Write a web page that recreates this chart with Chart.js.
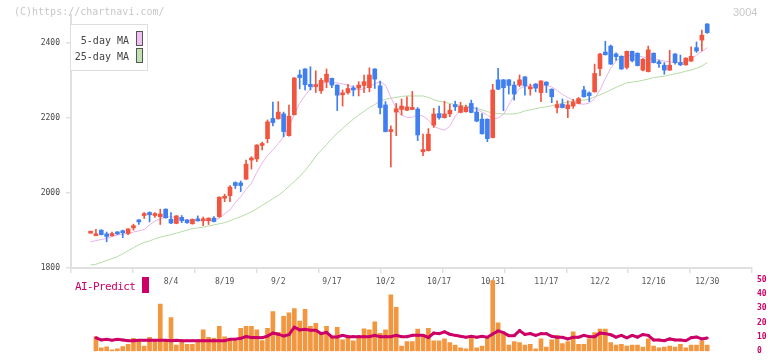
<!DOCTYPE html>
<html><head><meta charset="utf-8">
<script src="https://cdn.jsdelivr.net/npm/chart.js@4/dist/chart.umd.min.js"></script>
<style>
body{margin:0;background:#fff;width:772px;height:361px;overflow:hidden;position:relative;font-family:"DejaVu Sans Mono",monospace;}
canvas{position:absolute;left:0;}
#c1{top:0}
#c2{top:270px}
.t{position:absolute;white-space:nowrap;line-height:10px;}
</style></head><body>
<canvas id="c1" width="772" height="300"></canvas>
<canvas id="c2" width="772" height="91"></canvas>
<div class="t" style="left:14px;top:7px;font-size:10px;color:#c8c8c8">(C)https://chartnavi.com/</div>
<div class="t" style="left:733px;top:7px;font-size:11px;line-height:11px;color:#c8c8c8;font-family:'Liberation Sans',sans-serif">3004</div>
<div style="position:absolute;left:70px;top:24px;width:78px;height:47px;box-sizing:border-box;border:1.5px solid #dedede;background:#fff"></div>
<div class="t" style="left:0;width:129px;text-align:right;top:36px;font-size:10px;color:#444">5-day MA</div>
<div class="t" style="left:0;width:129px;text-align:right;top:52px;font-size:10px;color:#444">25-day MA</div>
<div style="position:absolute;left:136px;top:31px;width:7px;height:15px;box-sizing:border-box;border:1px solid #555;background:#f0c0f0"></div>
<div style="position:absolute;left:136px;top:48px;width:7px;height:15px;box-sizing:border-box;border:1px solid #555;background:#c0e2b2"></div>
<div class="t" style="left:75px;top:281px;font-size:11px;line-height:11px;letter-spacing:-0.6px;color:#cc0066">AI-Predict</div>
<div style="position:absolute;left:142px;top:277px;width:7px;height:16px;background:#cc0066"></div>
<script>
// candle index k = 0..115 (trading days 7/11 .. 12/30)
const openP = [1893,1886,1901,1891,1886,1896,1899,1892,1907,1928,
1940,1948,1940,1937,1957,1930,1919,1935,1928,1918,
1931,1926,1926,1933,1937,1986,1993,2028,2027,2037,
2088,2091,2127,2145,2199,2198,2211,2153,2209,2315,
2331,2290,2284,2273,2297,2306,2288,2262,2268,2280,
2280,2287,2281,2331,2286,2235,2164,2216,2223,2221,
2223,2224,2110,2113,2181,2212,2201,2211,2236,2215,
2217,2239,2216,2197,2197,2148,2302,2302,2302,2288,
2288,2310,2278,2291,2268,2296,2277,2228,2237,2225,
2232,2239,2275,2267,2270,2332,2376,2392,2371,2365,
2335,2378,2373,2328,2324,2373,2350,2341,2328,2371,
2348,2342,2352,2388,2408,2451];
const highP = [1897,1903,1902,1896,1896,1897,1901,1905,1917,1929,
1948,1950,1948,1957,1958,1948,1940,1940,1929,1931,
1939,1936,1934,1937,1990,1997,2020,2030,2032,2088,
2097,2129,2136,2195,2243,2244,2216,2235,2308,2328,
2332,2337,2326,2306,2331,2307,2289,2275,2290,2286,
2297,2315,2334,2332,2299,2244,2179,2239,2251,2257,
2271,2228,2157,2172,2226,2232,2245,2237,2245,2242,
2235,2248,2228,2212,2198,2290,2333,2303,2303,2297,
2315,2311,2291,2292,2300,2297,2278,2246,2251,2246,
2250,2255,2285,2270,2344,2373,2405,2395,2374,2366,
2379,2379,2374,2359,2392,2374,2355,2348,2381,2372,
2368,2361,2390,2403,2435,2452];
const lowP = [1893,1886,1888,1870,1885,1889,1881,1889,1901,1916,
1932,1923,1935,1916,1933,1918,1918,1921,1919,1917,
1925,1913,1916,1923,1935,1977,1977,2012,2004,2036,
2064,2084,2115,2134,2179,2197,2150,2152,2208,2278,
2275,2275,2268,2266,2281,2281,2220,2232,2264,2259,
2259,2268,2270,2279,2211,2163,2070,2153,2208,2220,
2222,2140,2100,2112,2175,2197,2200,2204,2220,2214,
2216,2214,2190,2157,2137,2147,2276,2220,2264,2248,
2284,2261,2261,2270,2244,2268,2241,2214,2227,2201,
2226,2238,2256,2244,2269,2313,2368,2343,2354,2330,
2331,2350,2339,2326,2323,2347,2335,2317,2327,2344,
2340,2341,2351,2375,2379,2426];
const closeP = [1897,1891,1889,1884,1892,1891,1894,1904,1913,1923,
1945,1942,1945,1944,1934,1920,1939,1926,1921,1930,
1926,1930,1933,1924,1989,1990,2016,2020,2020,2077,
2093,2128,2131,2190,2188,2216,2164,2205,2307,2308,
2289,2284,2288,2301,2317,2288,2261,2267,2279,2275,
2288,2297,2315,2304,2228,2164,2168,2225,2232,2230,
2226,2155,2116,2157,2211,2201,2211,2221,2230,2232,
2229,2215,2192,2158,2145,2275,2277,2281,2287,2264,
2302,2286,2282,2280,2299,2288,2257,2236,2228,2235,
2243,2252,2257,2260,2319,2371,2369,2344,2364,2331,
2378,2353,2340,2357,2382,2348,2345,2328,2341,2348,
2342,2360,2365,2379,2421,2428];
const ma5 = [1870,1873,1876,1879,1884,1888,1890,1892,1896,1899,
1903,1915,1925,1932,1935,1937,1933,1930,1928,1927,
1926,1926,1927,1928,1933,1945,1955,1975,1990,2010,
2026,2055,2080,2100,2115,2132,2150,2177,2210,2240,
2260,2278,2288,2294,2295,2294,2294,2291,2288,2282,
2275,2278,2284,2292,2297,2288,2255,2225,2208,2202,
2202,2210,2205,2195,2178,2172,2168,2178,2205,2220,
2228,2228,2224,2216,2208,2198,2200,2210,2235,2260,
2279,2284,2286,2288,2288,2288,2283,2274,2263,2255,
2248,2238,2237,2240,2252,2275,2305,2333,2353,2362,
2366,2368,2366,2363,2359,2357,2355,2352,2350,2348,
2348,2350,2358,2368,2378,2388];
const ma25 = [1808,1810,1815,1820,1825,1830,1838,1846,1854,1862,
1868,1872,1878,1882,1886,1889,1893,1897,1901,1905,
1907,1909,1912,1915,1918,1921,1926,1932,1937,1943,
1950,1958,1967,1976,1985,1994,2005,2018,2031,2044,
2060,2078,2098,2114,2129,2145,2160,2172,2185,2197,
2208,2218,2228,2236,2246,2250,2253,2255,2258,2259,
2259,2259,2259,2255,2249,2245,2242,2239,2236,2234,
2232,2230,2226,2222,2217,2214,2212,2211,2211,2211,
2214,2219,2222,2225,2228,2230,2233,2236,2240,2243,
2246,2247,2248,2250,2257,2262,2268,2275,2282,2288,
2294,2296,2298,2301,2304,2308,2310,2312,2315,2318,
2321,2325,2328,2333,2339,2348];
const aiBars = [null,10.0,2.3,3.1,1.0,1.6,3.3,4.8,9.0,6.9,
3.5,9.8,6.9,33.0,6.9,23.6,4.2,6.9,4.8,4.8,
6.9,14.9,9.8,9.0,17.4,10.0,8.6,6.9,16.1,17.4,
17.4,14.9,7.5,16.1,27.8,13.2,24.5,26.8,29.9,21.1,
29.3,17.4,19.5,12.5,17.4,10.0,16.8,7.9,10.0,7.3,
10.0,15.7,14.9,20.5,12.5,14.9,39.4,30.8,3.5,6.7,
6.7,15.5,11.1,16.1,7.3,7.3,8.6,6.0,4.2,2.3,
1.6,10.0,2.3,3.5,10.0,49.4,19.8,13.2,4.2,6.7,
6.0,4.2,4.8,1.6,8.6,2.9,7.9,11.1,5.4,6.7,
13.6,4.8,4.8,8.6,13.0,15.5,15.5,6.0,4.2,4.8,
3.5,4.2,4.2,2.9,8.6,3.5,2.3,2.9,3.5,2.9,
4.8,2.3,4.2,4.2,7.3,4.2];
const aiLine = [null,9.4,7.9,8.3,7.7,8.3,7.9,7.3,7.3,7.7,
7.7,7.7,7.7,7.7,7.7,7.3,7.7,7.3,7.3,7.3,
7.3,7.3,7.3,7.3,7.3,7.3,8.3,8.3,9.0,10.2,
9.6,9.6,9.4,10.6,12.7,11.9,10.6,11.5,16.8,14.9,
15.3,14.7,14.7,12.3,13.2,10.0,10.0,11.1,10.2,10.2,
10.2,10.2,10.2,11.1,10.2,10.2,10.2,11.1,10.2,10.2,
11.1,11.1,11.1,9.6,12.7,12.3,13.6,11.9,11.1,10.4,
9.8,10.4,9.8,10.4,9.8,12.1,14.2,13.0,10.9,10.9,
14.4,11.7,12.3,11.1,12.3,12.3,10.4,9.8,9.8,8.6,
9.8,9.8,11.1,10.2,10.2,12.7,12.3,11.5,9.8,11.1,
9.4,11.1,9.8,11.7,11.1,7.9,7.9,7.3,8.6,7.9,
7.9,7.3,9.4,10.0,8.6,9.2];
const dateLabels = ['8/4','8/19','9/2','9/17','10/2','10/17','10/31','11/17','12/2','12/16','12/30'];
const dateLabelIdx = [15,25,35,45,55,65,75,85,95,105,115];
const priceTicks = [1800,2000,2200,2400];

const X_MIN = -3.65, X_MAX = 123.35;
const UP = '#f2553f', DOWN = '#3f7ff0';
const candleColors = openP.map((o,k)=> closeP[k] >= o ? UP : DOWN);
const mono = 'DejaVu Sans Mono';

new Chart(document.getElementById('c1'), {
  data: { datasets: [
    { type:'line', data: ma25.map((v,k)=>({x:k,y:v})), borderColor:'#b5dca5', borderWidth:1, pointRadius:0, tension:0, order:3 },
    { type:'line', data: ma5.map((v,k)=>({x:k,y:v})), borderColor:'#ebb3eb', borderWidth:1, pointRadius:0, tension:0, order:2 },
    { type:'bar', data: highP.map((h,k)=>({x:k,y:[lowP[k],h]})), backgroundColor:candleColors, barThickness:1, grouped:false, order:1 },
    { type:'bar', data: openP.map((o,k)=>({x:k,y:[Math.min(o,closeP[k]),Math.max(o,closeP[k])]})), backgroundColor:candleColors, barThickness:4, minBarLength:2, grouped:false, order:0 }
  ]},
  options: {
    responsive:false, animation:false, events:[],
    plugins:{ legend:{display:false}, tooltip:{enabled:false} },
    layout:{ padding:{ top:15, right:20, left:0, bottom:0 } },
    scales: {
      x: { type:'linear', min:X_MIN, max:X_MAX, position:'bottom', weight:0, offset:false,
        afterBuildTicks: s => { const a=[]; for (let i=0;i<12;i++) a.push({value:X_MIN+i*(X_MAX-X_MIN)/11}); s.ticks=a; },
        afterFit: s => { s.height = 6; },
        ticks:{ display:false },
        grid:{ offset:false, drawOnChartArea:false, drawTicks:true, tickLength:5, color:'#e0e0e0', lineWidth:1.5 },
        border:{ color:'#e0e0e0', width:2 } },
      xd: { type:'linear', min:X_MIN, max:X_MAX, position:'bottom', weight:1, offset:false,
        afterBuildTicks: s => { s.ticks = dateLabelIdx.map(v=>({value:v})); },
        afterFit: s => { s.height = 26; },
        ticks:{ callback:(v,i)=>dateLabels[i], font:{family:mono,size:8}, color:'#555', padding:3, maxRotation:0, autoSkip:false },
        grid:{ display:false, drawTicks:false },
        border:{ display:false } },
      y: { type:'linear', min:1800, max:2475,
        afterBuildTicks: s => { s.ticks = priceTicks.map(v=>({value:v})); },
        afterFit: s => { s.width = 71; },
        ticks:{ callback:v=>String(v), font:{family:mono,size:8}, color:'#444', padding:6 },
        grid:{ drawOnChartArea:false, tickLength:5, color:'#e0e0e0', lineWidth:1.5 },
        border:{ color:'#e0e0e0', width:2 } }
    }
  }
});

new Chart(document.getElementById('c2'), {
  data: { datasets: [
    { type:'line', data: aiLine.map((v,k)=>({x:k,y:v})).filter(p=>p.y!==null), borderColor:'#cc0066', borderWidth:3, pointRadius:1.8, pointStyle:'rect', pointBackgroundColor:'#cc0066', pointBorderWidth:0, tension:0, order:0 },
    { type:'bar', data: aiBars.map((v,k)=>({x:k,y:v})).filter(p=>p.y!==null), backgroundColor:'#f2973f', barThickness:4, order:1 }
  ]},
  options: {
    responsive:false, animation:false, events:[],
    plugins:{ legend:{display:false}, tooltip:{enabled:false} },
    layout:{ padding:{ top:8, right:0, left:71, bottom:3.4 } },
    scales: {
      x: { type:'linear', min:X_MIN, max:X_MAX, display:false, offset:false },
      y: { position:'right', min:0, max:50,
        afterFit: s => { s.width = 20; },
        ticks:{ stepSize:10, color:'#cc0066', font:{family:mono,size:8,weight:'bold'}, padding:5 },
        grid:{ display:false, drawTicks:false },
        border:{ display:false } }
    }
  }
});
</script>
</body></html>
